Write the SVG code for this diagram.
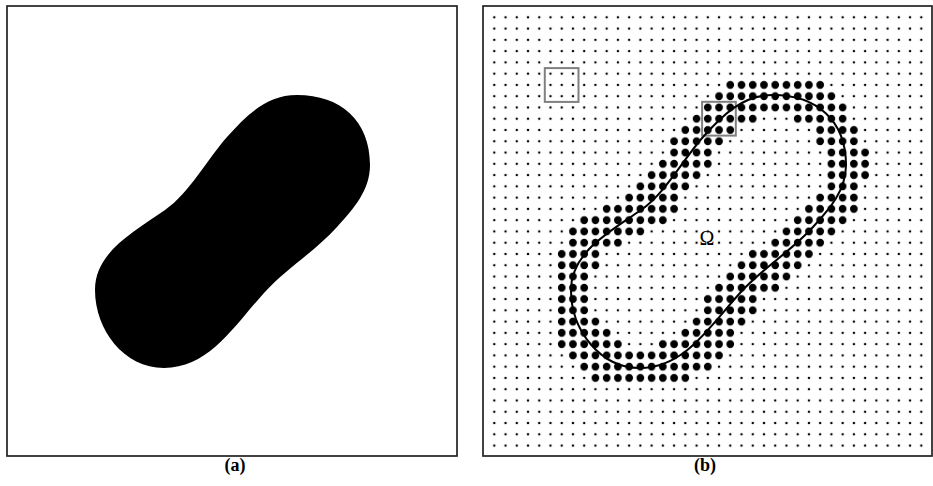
<svg xmlns="http://www.w3.org/2000/svg" xmlns:xlink="http://www.w3.org/1999/xlink" width="933" height="486" viewBox="0 0 933 486">
<style>
.frame{fill:#fff;stroke:#222;stroke-width:1.7}
.lbl{font-family:"Liberation Serif","Times New Roman",serif;font-weight:bold;font-size:18px;fill:#000;text-anchor:middle}
.omega{font-family:"Liberation Serif","Times New Roman",serif;font-size:20px;fill:#000;text-anchor:middle}
.sq{fill:none;stroke:#808080;stroke-width:2}
</style>
<defs>
<path id="blob" d="M 773 95 C 817 95 846 121 846 165 C 846 190 830 208.5 813 227 C 791 251.4 762 268.6 740 293 C 710 326 685 368 640 368 C 600 368 571 330 571 290 C 571 252 610 231.7 641 210 C 665.6 192.9 683 159.5 703 137 C 723 114.5 743 95 773 95 Z"/>
<pattern id="smallDot" patternUnits="userSpaceOnUse" x="0" y="0" width="1" height="1">
<circle cx="0.5" cy="0.5" r="0.11" fill="#000"/>
</pattern>
<pattern id="bigDot" patternUnits="userSpaceOnUse" x="0" y="0" width="1" height="1">
<circle cx="0.5" cy="0.5" r="0.345" fill="#000"/>
</pattern>
</defs>

<g id="panel-a">
<rect class="frame" x="7" y="6" width="450" height="450"/>
<use xlink:href="#blob" href="#blob" transform="translate(-476 0)" fill="#000"/>
<text class="lbl" x="235" y="471">(a)</text>
</g>

<g id="panel-b">
<rect class="frame" x="483" y="6" width="449" height="450"/>
<g id="grid" transform="translate(488.68 11.665) scale(11.237 11.27)">
<rect x="0" y="0" width="39" height="39" fill="url(#smallDot)"/>
<g id="band" fill="url(#bigDot)">
<rect x="21" y="6" width="9" height="1"/>
<rect x="20" y="7" width="11" height="1"/>
<rect x="19" y="8" width="13" height="1"/>
<rect x="18" y="9" width="6" height="1"/><rect x="27" y="9" width="5" height="1"/>
<rect x="17" y="10" width="5" height="1"/><rect x="29" y="10" width="4" height="1"/>
<rect x="16" y="11" width="5" height="1"/><rect x="29" y="11" width="4" height="1"/>
<rect x="16" y="12" width="4" height="1"/><rect x="30" y="12" width="4" height="1"/>
<rect x="15" y="13" width="5" height="1"/><rect x="30" y="13" width="4" height="1"/>
<rect x="14" y="14" width="5" height="1"/><rect x="30" y="14" width="4" height="1"/>
<rect x="13" y="15" width="5" height="1"/><rect x="30" y="15" width="3" height="1"/>
<rect x="12" y="16" width="5" height="1"/><rect x="29" y="16" width="4" height="1"/>
<rect x="10" y="17" width="7" height="1"/><rect x="28" y="17" width="5" height="1"/>
<rect x="8" y="18" width="8" height="1"/><rect x="27" y="18" width="5" height="1"/>
<rect x="7" y="19" width="7" height="1"/><rect x="26" y="19" width="5" height="1"/>
<rect x="7" y="20" width="5" height="1"/><rect x="25" y="20" width="5" height="1"/>
<rect x="6" y="21" width="4" height="1"/><rect x="23" y="21" width="6" height="1"/>
<rect x="6" y="22" width="4" height="1"/><rect x="22" y="22" width="6" height="1"/>
<rect x="6" y="23" width="3" height="1"/><rect x="21" y="23" width="6" height="1"/>
<rect x="6" y="24" width="3" height="1"/><rect x="20" y="24" width="6" height="1"/>
<rect x="6" y="25" width="3" height="1"/><rect x="19" y="25" width="5" height="1"/>
<rect x="6" y="26" width="3" height="1"/><rect x="19" y="26" width="5" height="1"/>
<rect x="6" y="27" width="4" height="1"/><rect x="18" y="27" width="5" height="1"/>
<rect x="6" y="28" width="5" height="1"/><rect x="17" y="28" width="5" height="1"/>
<rect x="6" y="29" width="6" height="1"/><rect x="15" y="29" width="7" height="1"/>
<rect x="7" y="30" width="14" height="1"/>
<rect x="8" y="31" width="12" height="1"/>
<rect x="9" y="32" width="9" height="1"/>
</g>
</g>
<g id="boxes">
<rect class="sq" x="544.8" y="68.1" width="33.7" height="33.8"/>
<rect class="sq" x="702.1" y="101.8" width="33.7" height="33.8"/>
</g>
<g id="connectors">
<use xlink:href="#blob" href="#blob" fill="none" stroke="#000" stroke-width="2"/>
</g>
<text class="omega" x="707" y="245">Ω</text>
<text class="lbl" x="705" y="471">(b)</text>
</g>
</svg>
